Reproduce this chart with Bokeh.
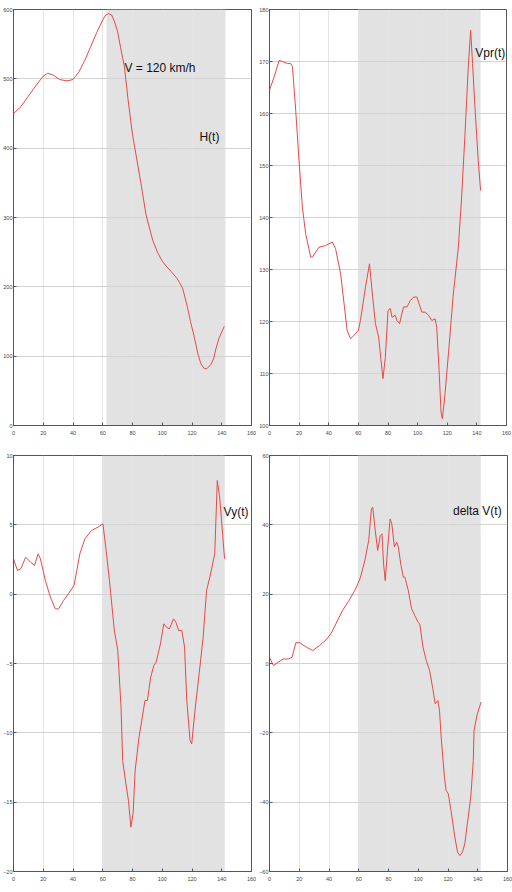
from bokeh.plotting import figure
from bokeh.layouts import column, row
from bokeh.models import Range1d, LinearAxis, BoxAnnotation, FixedTicker, Label
from bokeh.embed import file_html
from bokeh.resources import INLINE

# ---------------- data ----------------
x_ticks = [0, 20, 40, 60, 80, 100, 120, 140, 160]

t_h = [0, 5, 10, 15, 20, 23, 27, 31, 36, 40, 44, 48, 52, 56, 60, 62, 64, 66, 68, 70, 72,
       74.6, 77, 80, 83.6, 86, 89, 93.6, 97, 100, 103, 106, 110, 113.7, 117, 119, 121.6,
       124, 126, 128.3, 130, 132.7, 134.5, 136, 138, 140, 141.7]
h = [450, 460, 475, 490, 504, 508, 505, 499, 497, 499, 510, 527, 547, 567, 585, 592, 594,
     592, 582, 568, 545, 517, 470, 420, 375, 345, 305, 267, 249, 237, 229, 222, 212, 198,
     170, 150, 127, 103, 89, 82, 82, 88, 96, 110, 125, 135, 143]
h_ticks = [0, 100, 200, 300, 400, 500, 600]

t_vpr = [0, 3.1, 6.5, 8.7, 12.1, 14.3, 15.5, 17.7, 19.9, 22.2, 24.4, 27.8, 29, 33.4, 37.9,
         42.4, 44.6, 48, 50.6, 52.4, 54.7, 56.9, 60, 61.4, 64.8, 67.5, 69.2, 71.5, 73.7,
         75.3, 76.6, 78.2, 80, 81.6, 82.7, 84.9, 86, 87.8, 90.5, 92.8, 95, 97.3, 99.5,
         102.9, 105.1, 107.3, 109.6, 111.8, 112.9, 114.5, 115.8, 116.7, 118.5, 120.8,
         124.1, 127.5, 129.7, 132, 134.2, 135.8, 137.1, 138.7, 140.9, 142.5]
vpr = [164.5, 167, 170.2, 170, 169.6, 169.6, 169, 160.6, 151, 142, 136.9, 132.4, 132.4,
       134.3, 134.6, 135.3, 134, 129.2, 122.8, 118.3, 116.7, 117.3, 118.3, 120.2, 126.6,
       131.1, 126, 119.6, 117, 112.5, 109, 113.1, 122.1, 122.5, 120.8, 121.2, 120.2, 119.6,
       122.8, 122.8, 124, 124.7, 124.7, 121.8, 121.8, 121.2, 120.2, 120.5, 118.9, 110.6,
       102.6, 101.3, 106.1, 113.8, 125.3, 134.3, 143.9, 156.1, 169, 176, 169.6, 161.3,
       151, 145.2]
vpr_ticks = [100, 110, 120, 130, 140, 150, 160, 170, 180]

t_vy = [0, 2.65, 4.9, 8.2, 11.5, 14.1, 16.6, 18.1, 21.4, 24.8, 28.1, 30.3, 33.6, 36.9,
        40.7, 44.6, 48, 52.4, 56.8, 60.1, 62.3, 64.5, 67.8, 70.1, 72.3, 73.4, 75.6, 77.3,
        78.9, 80.4, 81.8, 84.4, 86.6, 88.4, 90, 92.2, 94.4, 95.9, 98.8, 101, 102.8, 104.8,
        107.6, 109.2, 111, 113.2, 115, 116.5, 118.7, 119.8, 122, 125.3, 127.5, 129.8, 132,
        135.3, 137, 138.6, 141.9]
vy = [2.55, 1.71, 1.83, 2.67, 2.31, 2.07, 2.91, 2.55, 0.99, -0.22, -1.06, -1.06, -0.46,
      0.02, 0.63, 2.91, 3.99, 4.59, 4.83, 5.07, 3.15, 0.99, -2.62, -4.06, -8.15, -12.0,
      -13.7, -14.9, -16.8, -15.8, -12.7, -10.3, -8.87, -7.67, -7.67, -5.99, -5.14, -4.9,
      -3.58, -2.14, -2.38, -2.5, -1.78, -2.02, -2.62, -2.62, -3.82, -7.67, -10.55, -10.8,
      -8.39, -5.26, -3.1, 0.26, 1.23, 2.91, 8.2, 7.0, 2.55]
vy_ticks = [-20, -15, -10, -5, 0, 5, 10]

t_dv = [0, 2.65, 6, 9.3, 12.6, 15.2, 17.7, 20.3, 24.8, 29.2, 33.6, 38, 41.3, 44.6, 49.1,
        53.5, 57.9, 61.2, 64.1, 66.7, 68.5, 69.4, 71.1, 72.7, 74.5, 75.6, 76.7, 77.8, 79.3,
        81.1, 82.2, 84, 85.5, 86.6, 88.4, 90, 91, 93.3, 95.5, 97.7, 99.9, 101, 103.2,
        105.4, 107.6, 109.8, 111.4, 113.2, 114.3, 115.4, 117.6, 118.7, 120.2, 122, 124.6,
        126.4, 128, 129.7, 131.3, 133, 135.3, 137, 137.5, 139.7, 142.3]
dv = [1.8, -0.6, 0.4, 1.3, 1.3, 1.8, 6, 6, 4.7, 3.75, 5.2, 6.8, 8.6, 11.4, 15.3, 18.2, 21.5,
      24.9, 29.7, 35.5, 44.6, 45.1, 38.4, 32.6, 36.9, 37.4, 28.75, 23.9, 32.6, 41.7, 40.3,
      33.6, 35, 33.6, 28.3, 24.9, 24.9, 21.1, 15.8, 13.8, 11.9, 11.4, 4.7, 0.9, -2, -7.3,
      -11.6, -10.7, -13.6, -21.25, -32.8, -36.6, -37.6, -42.4, -50.1, -54.4, -55.4, -54.4,
      -52, -46.25, -38.6, -28, -19.3, -14.5, -11.1]
dv_ticks = [-60, -40, -20, 0, 20, 40, 60]

shade_h = (62.5, 142.5)
shade_vpr = (60, 142.5)
shade_vy = (60, 142)
shade_dv = (60, 142)

FONT = "Liberation Sans"
LINE = "#e34a48"
SHADE = "#e2e2e2"
GRID = "#d2d2d2"
AXIS = "#555555"


def panel(t, y, yr, yticks, shade, w, h_, borders, label_items):
    left, right, top, bottom = borders
    p = figure(width=w, height=h_, output_backend="svg", toolbar_location=None,
               x_range=Range1d(0, 160), y_range=Range1d(yr[0], yr[1]),
               min_border_left=left, min_border_right=right,
               min_border_top=top, min_border_bottom=bottom,
               x_axis_location=None, y_axis_location=None)
    p.outline_line_color = AXIS
    p.outline_line_width = 1
    p.background_fill_color = "white"
    p.border_fill_color = "white"

    xa = LinearAxis(ticker=FixedTicker(ticks=x_ticks))
    ya = LinearAxis(ticker=FixedTicker(ticks=yticks))
    for ax in (xa, ya):
        ax.major_tick_in = 3
        ax.major_tick_out = 0
        ax.minor_tick_in = 0
        ax.minor_tick_out = 0
        ax.axis_line_color = AXIS
        ax.major_tick_line_color = AXIS
        ax.major_label_text_font = FONT
        ax.major_label_text_font_size = "5.5px"
        ax.major_label_text_color = "#444444"
        ax.major_label_standoff = 1
    xa.major_label_standoff = 5
    p.add_layout(xa, "below")
    p.add_layout(ya, "left")

    p.xgrid.ticker = FixedTicker(ticks=x_ticks)
    p.ygrid.ticker = FixedTicker(ticks=yticks)
    p.xgrid.grid_line_color = "#e4e4e4"
    p.ygrid.grid_line_color = GRID
    p.xgrid.grid_line_width = 1
    p.ygrid.grid_line_width = 1

    box = BoxAnnotation(left=shade[0], right=shade[1], fill_color=SHADE, fill_alpha=1.0,
                        line_alpha=0, level="image")
    p.add_layout(box)

    p.line(t, y, line_color=LINE, line_width=1)

    for (txt, lx, ly) in label_items:
        p.add_layout(Label(x=lx, y=ly, text=txt, text_font=FONT, text_font_size="12px",
                           text_color="#111111", text_baseline="middle", text_align="center"))
    return p


p1 = panel(t_h, h, (0, 600), h_ticks, shade_h, 256, 440, (12, 5, 9, 15),
           [("V = 120 km/h", 98.5, 515), ("H(t)", 131.7, 416)])
p2 = panel(t_vpr, vpr, (100, 180), vpr_ticks, shade_vpr, 256, 440, (12, 6, 9, 15),
           [("Vpr(t)", 149, 171.6)])
p3 = panel(t_vy, vy, (-20, 10), vy_ticks, shade_vy, 256, 452, (10, 5, 15, 21),
           [("Vy(t)", 149.6, 5.9)])
p4 = panel(t_dv, dv, (-60, 60), dv_ticks, shade_dv, 256, 452, (10, 5, 15, 21),
           [("delta V(t)", 139.7, 44.1)])

layout = column(row(p1, p2, spacing=0), row(p3, p4, spacing=0), spacing=0)

open("out.html", "w").write(file_html(layout, INLINE))
